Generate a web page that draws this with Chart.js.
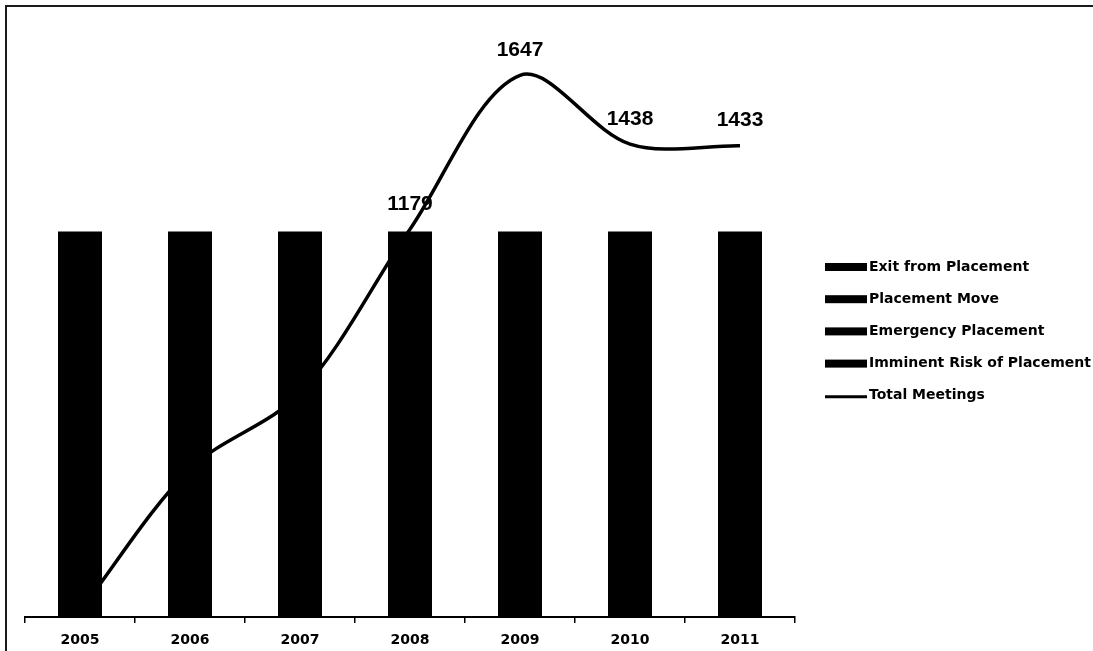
<!DOCTYPE html>
<html>
<head>
<meta charset="utf-8">
<title>Total Meetings 2005–2011</title>
<script src="https://cdn.jsdelivr.net/npm/chart.js@4.4.1/dist/chart.umd.min.js"></script>
<style>
  html, body { margin: 0; padding: 0; background: #fff; }
  canvas { display: block; }
</style>
</head>
<body>
<canvas id="chart" width="1093" height="651"></canvas>
<script>
// Years on the category axis
const years = ['2005', '2006', '2007', '2008', '2009', '2010', '2011'];

// Share of meetings by reason (percent of each year's total, stacked to 100)
const imminentRisk       = [62, 58, 55, 52, 50, 48, 47];
const emergencyPlacement = [18, 19, 20, 21, 22, 22, 23];
const placementMove      = [12, 13, 14, 15, 15, 16, 16];
const exitFromPlacement  = [8, 10, 11, 12, 13, 14, 14];

// Total number of meetings per year
const totalMeetings = [18, 450, 681, 1179, 1647, 1438, 1433];

// Legend entries, top to bottom (dataset indices)
const legendOrder = [3, 2, 1, 0, 4];

const INK = '#000000';

// White page with a thin frame along the top and left edges
const framePlugin = {
  id: 'frame',
  beforeDraw(chart) {
    const ctx = chart.ctx;
    ctx.save();
    ctx.fillStyle = '#ffffff';
    ctx.fillRect(0, 0, chart.width, chart.height);
    ctx.strokeStyle = '#1a1a1a';
    ctx.lineWidth = 2;
    ctx.beginPath();
    ctx.moveTo(6, chart.height);
    ctx.lineTo(6, 6);
    ctx.lineTo(chart.width, 6);
    ctx.stroke();
    ctx.restore();
  }
};

// Value labels above each point of the Total Meetings line
const valueLabelPlugin = {
  id: 'valueLabels',
  afterDatasetsDraw(chart) {
    const ctx = chart.ctx;
    const idx = chart.data.datasets.findIndex(d => d.type === 'line');
    const meta = chart.getDatasetMeta(idx);
    const values = chart.data.datasets[idx].data;
    ctx.save();
    ctx.fillStyle = INK;
    ctx.font = 'bold 21px "Liberation Sans", Arial, sans-serif';
    ctx.textAlign = 'center';
    ctx.textBaseline = 'middle';
    meta.data.forEach((pt, i) => {
      ctx.fillText(String(values[i]), pt.x, pt.y - 25);
    });
    ctx.restore();
  }
};

// Legend drawn to the right of the plot
const sideLegendPlugin = {
  id: 'sideLegend',
  afterDraw(chart) {
    const ctx = chart.ctx;
    const x0 = 825, swW = 42, swH = 8, y0 = 267, step = 32.2;
    ctx.save();
    ctx.font = 'bold 14px "DejaVu Sans", sans-serif';
    ctx.textBaseline = 'middle';
    ctx.textAlign = 'left';
    legendOrder.forEach((di, row) => {
      const ds = chart.data.datasets[di];
      const y = y0 + row * step;
      ctx.fillStyle = INK;
      ctx.strokeStyle = INK;
      if (ds.type === 'line') {
        ctx.lineWidth = 3;
        ctx.beginPath();
        ctx.moveTo(x0, y + 1);
        ctx.lineTo(x0 + swW, y + 1);
        ctx.stroke();
      } else {
        ctx.fillRect(x0, y - swH / 2, swW, swH);
      }
      ctx.fillText(ds.label, x0 + swW + 2, y);
    });
    ctx.restore();
  }
};

const barBase = {
  type: 'bar',
  yAxisID: 'y',
  stack: 'reasons',
  backgroundColor: INK,
  borderWidth: 0,
  inflateAmount: 1,
  barThickness: 42,
  order: 2
};

new Chart(document.getElementById('chart'), {
  data: {
    labels: years,
    datasets: [
      Object.assign({}, barBase, { label: 'Imminent Risk of Placement', data: imminentRisk }),
      Object.assign({}, barBase, { label: 'Emergency Placement', data: emergencyPlacement }),
      Object.assign({}, barBase, { label: 'Placement Move', data: placementMove }),
      Object.assign({}, barBase, { label: 'Exit from Placement', data: exitFromPlacement }),
      {
        type: 'line',
        label: 'Total Meetings',
        data: totalMeetings,
        yAxisID: 'y1',
        borderColor: INK,
        backgroundColor: INK,
        borderWidth: 3.5,
        pointRadius: 0,
        tension: 0.33,
        fill: false,
        order: 1
      }
    ]
  },
  options: {
    responsive: false,
    animation: false,
    layout: { padding: { left: 25, top: 25, right: 298, bottom: 3 } },
    plugins: {
      legend: { display: false },
      tooltip: { enabled: false }
    },
    scales: {
      x: {
        stacked: true,
        offset: true,
        afterFit(scale) { scale.height = 31; },
        grid: {
          offset: true,
          drawOnChartArea: false,
          drawTicks: true,
          tickLength: 6,
          color: INK,
          lineWidth: 1.5
        },
        border: { display: true, color: INK, width: 2 },
        ticks: {
          color: INK,
          padding: 9,
          maxRotation: 0,
          font: { family: '"DejaVu Sans", sans-serif', weight: 'bold', size: 14 }
        }
      },
      y: { display: false, stacked: true, min: 0, max: 154 },
      y1: { display: false, position: 'right', min: 0, max: 1800, grid: { drawOnChartArea: false } }
    }
  },
  plugins: [framePlugin, valueLabelPlugin, sideLegendPlugin]
});
</script>
</body>
</html>
